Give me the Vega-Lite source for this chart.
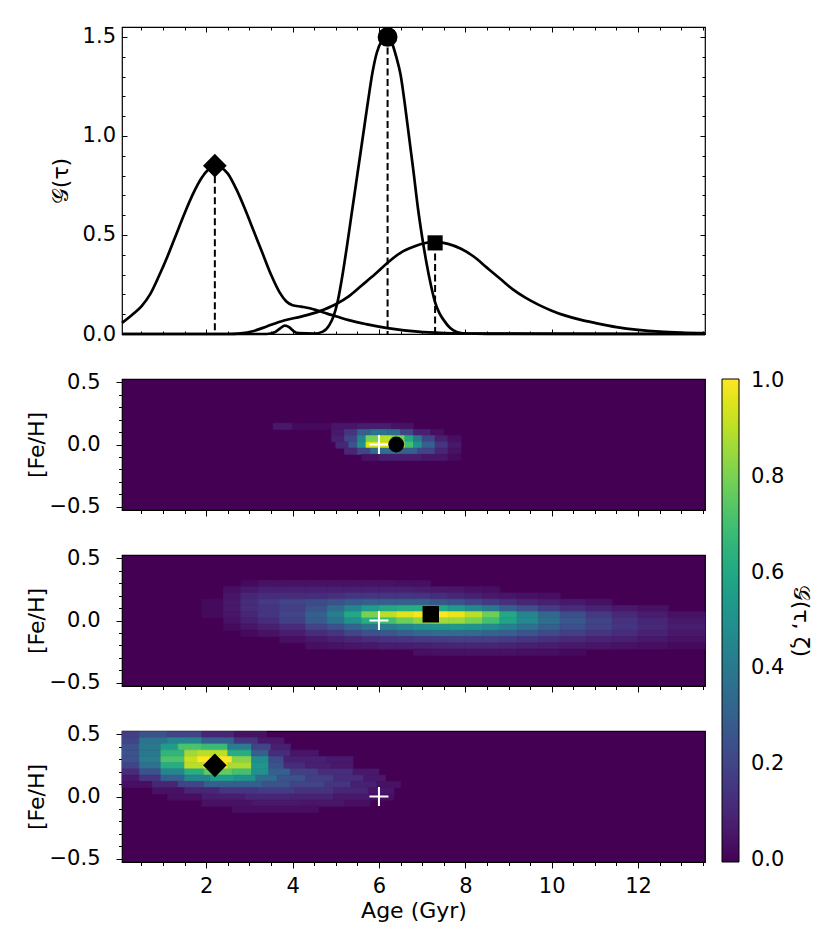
{
  "$schema": "https://vega.github.io/schema/vega-lite/v6.json",
  "padding": {"left": 24, "top": 25, "right": 5, "bottom": 5},
  "background": "white",
  "spacing": 45,
  "bounds": "flush",
  "config": {
    "font": "DejaVu Sans",
    "view": {"stroke": "black", "strokeWidth": 1.2},
    "axis": {"domain": false, "grid": false, "labelFontSize": 21, "titleFontSize": 22, "titleFontWeight": "normal", "labelColor": "black", "titleColor": "black", "tickColor": "black", "tickWidth": 1, "labelFont": "DejaVu Sans", "titleFont": "DejaVu Sans"},
    "legend": {"labelFontSize": 21, "titleFontSize": 22, "titleFontWeight": "normal", "labelColor": "black", "titleColor": "black", "labelFont": "DejaVu Sans", "titleFont": "DejaVu Sans"}
  },
  "datasets": {
    "curves": [
      {"s":"A","age":0.05,"g":0.056},{"s":"A","age":0.3,"g":0.1},{"s":"A","age":0.5,"g":0.14},{"s":"A","age":0.7,"g":0.2},{"s":"A","age":0.9,"g":0.29},{"s":"A","age":1.1,"g":0.39},{"s":"A","age":1.3,"g":0.5},{"s":"A","age":1.5,"g":0.61},{"s":"A","age":1.7,"g":0.71},{"s":"A","age":1.9,"g":0.79},{"s":"A","age":2.05,"g":0.83},{"s":"A","age":2.2,"g":0.85},{"s":"A","age":2.35,"g":0.84},{"s":"A","age":2.5,"g":0.81},{"s":"A","age":2.7,"g":0.73},{"s":"A","age":2.9,"g":0.63},{"s":"A","age":3.1,"g":0.52},{"s":"A","age":3.3,"g":0.41},{"s":"A","age":3.5,"g":0.3},{"s":"A","age":3.7,"g":0.21},{"s":"A","age":3.85,"g":0.165},{"s":"A","age":4.0,"g":0.145},{"s":"A","age":4.2,"g":0.138},{"s":"A","age":4.4,"g":0.13},{"s":"A","age":4.6,"g":0.117},{"s":"A","age":4.8,"g":0.103},{"s":"A","age":5.0,"g":0.09},{"s":"A","age":5.3,"g":0.07},{"s":"A","age":5.7,"g":0.05},{"s":"A","age":6.2,"g":0.03},{"s":"A","age":6.9,"g":0.012},{"s":"A","age":7.5,"g":0.005},{"s":"A","age":8.5,"g":0.001},{"s":"A","age":13.55,"g":0},
      {"s":"B","age":0.05,"g":0},{"s":"B","age":3.4,"g":0},{"s":"B","age":3.6,"g":0.01},{"s":"B","age":3.72,"g":0.03},{"s":"B","age":3.82,"g":0.042},{"s":"B","age":3.92,"g":0.035},{"s":"B","age":4.02,"g":0.015},{"s":"B","age":4.15,"g":0.004},{"s":"B","age":4.5,"g":0.002},{"s":"B","age":4.7,"g":0.012},{"s":"B","age":4.85,"g":0.045},{"s":"B","age":4.95,"g":0.09},{"s":"B","age":5.05,"g":0.17},{"s":"B","age":5.15,"g":0.29},{"s":"B","age":5.25,"g":0.43},{"s":"B","age":5.35,"g":0.58},{"s":"B","age":5.45,"g":0.73},{"s":"B","age":5.55,"g":0.88},{"s":"B","age":5.65,"g":1.03},{"s":"B","age":5.75,"g":1.18},{"s":"B","age":5.85,"g":1.32},{"s":"B","age":5.95,"g":1.42},{"s":"B","age":6.05,"g":1.475},{"s":"B","age":6.15,"g":1.498},{"s":"B","age":6.2,"g":1.5},{"s":"B","age":6.3,"g":1.47},{"s":"B","age":6.4,"g":1.4},{"s":"B","age":6.5,"g":1.31},{"s":"B","age":6.6,"g":1.16},{"s":"B","age":6.7,"g":0.99},{"s":"B","age":6.8,"g":0.82},{"s":"B","age":6.9,"g":0.64},{"s":"B","age":7.0,"g":0.49},{"s":"B","age":7.1,"g":0.36},{"s":"B","age":7.2,"g":0.25},{"s":"B","age":7.3,"g":0.16},{"s":"B","age":7.4,"g":0.105},{"s":"B","age":7.5,"g":0.07},{"s":"B","age":7.65,"g":0.03},{"s":"B","age":7.8,"g":0.01},{"s":"B","age":8.0,"g":0.002},{"s":"B","age":13.55,"g":0},
      {"s":"C","age":0.05,"g":0},{"s":"C","age":2.5,"g":0},{"s":"C","age":2.8,"g":0.003},{"s":"C","age":3.1,"g":0.015},{"s":"C","age":3.4,"g":0.038},{"s":"C","age":3.8,"g":0.068},{"s":"C","age":4.2,"g":0.088},{"s":"C","age":4.6,"g":0.113},{"s":"C","age":5.0,"g":0.15},{"s":"C","age":5.3,"g":0.19},{"s":"C","age":5.6,"g":0.245},{"s":"C","age":5.9,"g":0.3},{"s":"C","age":6.2,"g":0.36},{"s":"C","age":6.5,"g":0.41},{"s":"C","age":6.8,"g":0.44},{"s":"C","age":7.05,"g":0.458},{"s":"C","age":7.3,"g":0.465},{"s":"C","age":7.6,"g":0.455},{"s":"C","age":7.9,"g":0.43},{"s":"C","age":8.2,"g":0.39},{"s":"C","age":8.5,"g":0.335},{"s":"C","age":8.8,"g":0.28},{"s":"C","age":9.1,"g":0.225},{"s":"C","age":9.4,"g":0.182},{"s":"C","age":9.7,"g":0.147},{"s":"C","age":10.0,"g":0.118},{"s":"C","age":10.3,"g":0.094},{"s":"C","age":10.7,"g":0.07},{"s":"C","age":11.0,"g":0.056},{"s":"C","age":11.5,"g":0.035},{"s":"C","age":12.0,"g":0.021},{"s":"C","age":12.5,"g":0.012},{"s":"C","age":13.0,"g":0.007},{"s":"C","age":13.55,"g":0.004}
    ],
    "tops": [
      {"m":"D","age":2.2,"g":0.85},{"m":"C","age":6.2,"g":1.5},{"m":"S","age":7.3,"g":0.46}
    ],
    "plus": [{"age":6.0,"f":0.0}],
    "m1": [{"age":6.4,"f":0.0}],
    "m2": [{"age":7.2,"f":0.05}],
    "m3": [{"age":2.2,"f":0.25}],
    "h1": [
      {"a":3.55,"b":4.0,"f":0.15,"v":0.06},{"a":4.0,"b":4.9,"f":0.15,"v":0.02},{"a":4.9,"b":5.5,"f":0.15,"v":0.05},{"a":5.5,"b":6.3,"f":0.15,"v":0.07},{"a":6.3,"b":6.8,"f":0.15,"v":0.04},
      {"a":4.9,"b":5.2,"f":0.1,"v":0.06},{"a":5.2,"b":5.5,"f":0.1,"v":0.15},{"a":5.5,"b":5.8,"f":0.1,"v":0.3},{"a":5.8,"b":6.2,"f":0.1,"v":0.38},{"a":6.2,"b":6.5,"f":0.1,"v":0.35},{"a":6.5,"b":6.8,"f":0.1,"v":0.2},{"a":6.8,"b":7.2,"f":0.1,"v":0.08},{"a":7.2,"b":7.5,"f":0.1,"v":0.03},
      {"a":4.9,"b":5.2,"f":0.05,"v":0.08},{"a":5.2,"b":5.5,"f":0.05,"v":0.2},{"a":5.5,"b":5.7,"f":0.05,"v":0.45},{"a":5.7,"b":6.0,"f":0.05,"v":0.8},{"a":6.0,"b":6.3,"f":0.05,"v":0.9},{"a":6.3,"b":6.6,"f":0.05,"v":0.8},{"a":6.6,"b":6.8,"f":0.05,"v":0.6},{"a":6.8,"b":7.0,"f":0.05,"v":0.4},{"a":7.0,"b":7.3,"f":0.05,"v":0.2},{"a":7.3,"b":7.6,"f":0.05,"v":0.08},{"a":7.6,"b":7.9,"f":0.05,"v":0.03},
      {"a":5.0,"b":5.3,"f":0,"v":0.1},{"a":5.3,"b":5.5,"f":0,"v":0.25},{"a":5.5,"b":5.7,"f":0,"v":0.5},{"a":5.7,"b":6.2,"f":0,"v":0.95},{"a":6.2,"b":6.6,"f":0,"v":1.0},{"a":6.6,"b":6.8,"f":0,"v":0.7},{"a":6.8,"b":7.0,"f":0,"v":0.5},{"a":7.0,"b":7.3,"f":0,"v":0.3},{"a":7.3,"b":7.6,"f":0,"v":0.15},{"a":7.6,"b":7.9,"f":0,"v":0.06},
      {"a":5.2,"b":5.5,"f":-0.05,"v":0.1},{"a":5.5,"b":5.8,"f":-0.05,"v":0.2},{"a":5.8,"b":6.5,"f":-0.05,"v":0.35},{"a":6.5,"b":6.9,"f":-0.05,"v":0.3},{"a":6.9,"b":7.3,"f":-0.05,"v":0.2},{"a":7.3,"b":7.6,"f":-0.05,"v":0.1},{"a":7.6,"b":7.9,"f":-0.05,"v":0.04},
      {"a":5.6,"b":6.0,"f":-0.1,"v":0.04},{"a":6.0,"b":7.0,"f":-0.1,"v":0.07},{"a":7.0,"b":7.6,"f":-0.1,"v":0.05},{"a":7.6,"b":7.9,"f":-0.1,"v":0.02}
    ],
    "h2": [
      {"a":1.9,"b":2.4,"f":0.15,"v":0.02},{"a":1.9,"b":2.4,"f":0.1,"v":0.02},{"a":1.9,"b":2.4,"f":0.05,"v":0.02},
      {"a":2.4,"b":2.8,"f":0.25,"v":0.03},{"a":2.4,"b":2.8,"f":0.2,"v":0.05},{"a":2.4,"b":2.8,"f":0.15,"v":0.06},{"a":2.4,"b":2.8,"f":0.1,"v":0.06},{"a":2.4,"b":2.8,"f":0.05,"v":0.05},{"a":2.4,"b":2.8,"f":0,"v":0.04},{"a":2.4,"b":2.8,"f":-0.05,"v":0.02},
      {"a":2.8,"b":3.2,"f":0.3,"v":0.02},{"a":2.8,"b":3.2,"f":0.25,"v":0.06},{"a":2.8,"b":3.2,"f":0.2,"v":0.1},{"a":2.8,"b":3.2,"f":0.15,"v":0.12},{"a":2.8,"b":3.2,"f":0.1,"v":0.12},{"a":2.8,"b":3.2,"f":0.05,"v":0.1},{"a":2.8,"b":3.2,"f":0,"v":0.08},{"a":2.8,"b":3.2,"f":-0.05,"v":0.05},{"a":2.8,"b":3.2,"f":-0.1,"v":0.02},
      {"a":3.2,"b":3.7,"f":0.3,"v":0.04},{"a":3.2,"b":3.7,"f":0.25,"v":0.08},{"a":3.2,"b":3.7,"f":0.2,"v":0.12},{"a":3.2,"b":3.7,"f":0.15,"v":0.16},{"a":3.2,"b":3.7,"f":0.1,"v":0.15},{"a":3.2,"b":3.7,"f":0.05,"v":0.15},{"a":3.2,"b":3.7,"f":0,"v":0.12},{"a":3.2,"b":3.7,"f":-0.05,"v":0.08},{"a":3.2,"b":3.7,"f":-0.1,"v":0.04},
      {"a":3.7,"b":4.3,"f":0.3,"v":0.04},{"a":3.7,"b":4.3,"f":0.25,"v":0.08},{"a":3.7,"b":4.3,"f":0.2,"v":0.12},{"a":3.7,"b":4.3,"f":0.15,"v":0.2},{"a":3.7,"b":4.3,"f":0.1,"v":0.18},{"a":3.7,"b":4.3,"f":0.05,"v":0.2},{"a":3.7,"b":4.3,"f":0,"v":0.18},{"a":3.7,"b":4.3,"f":-0.05,"v":0.12},{"a":3.7,"b":4.3,"f":-0.1,"v":0.07},{"a":3.7,"b":4.3,"f":-0.15,"v":0.03},
      {"a":4.3,"b":4.8,"f":0.3,"v":0.04},{"a":4.3,"b":4.8,"f":0.25,"v":0.08},{"a":4.3,"b":4.8,"f":0.2,"v":0.12},{"a":4.3,"b":4.8,"f":0.15,"v":0.22},{"a":4.3,"b":4.8,"f":0.1,"v":0.25},{"a":4.3,"b":4.8,"f":0.05,"v":0.3},{"a":4.3,"b":4.8,"f":0,"v":0.28},{"a":4.3,"b":4.8,"f":-0.05,"v":0.2},{"a":4.3,"b":4.8,"f":-0.1,"v":0.12},{"a":4.3,"b":4.8,"f":-0.15,"v":0.06},{"a":4.3,"b":4.8,"f":-0.2,"v":0.03},
      {"a":4.8,"b":5.2,"f":0.3,"v":0.04},{"a":4.8,"b":5.2,"f":0.25,"v":0.08},{"a":4.8,"b":5.2,"f":0.2,"v":0.13},{"a":4.8,"b":5.2,"f":0.15,"v":0.25},{"a":4.8,"b":5.2,"f":0.1,"v":0.35},{"a":4.8,"b":5.2,"f":0.05,"v":0.42},{"a":4.8,"b":5.2,"f":0,"v":0.38},{"a":4.8,"b":5.2,"f":-0.05,"v":0.25},{"a":4.8,"b":5.2,"f":-0.1,"v":0.15},{"a":4.8,"b":5.2,"f":-0.15,"v":0.08},{"a":4.8,"b":5.2,"f":-0.2,"v":0.04},
      {"a":5.2,"b":5.6,"f":0.3,"v":0.04},{"a":5.2,"b":5.6,"f":0.25,"v":0.08},{"a":5.2,"b":5.6,"f":0.2,"v":0.15},{"a":5.2,"b":5.6,"f":0.15,"v":0.28},{"a":5.2,"b":5.6,"f":0.1,"v":0.45},{"a":5.2,"b":5.6,"f":0.05,"v":0.6},{"a":5.2,"b":5.6,"f":0,"v":0.5},{"a":5.2,"b":5.6,"f":-0.05,"v":0.32},{"a":5.2,"b":5.6,"f":-0.1,"v":0.2},{"a":5.2,"b":5.6,"f":-0.15,"v":0.1},{"a":5.2,"b":5.6,"f":-0.2,"v":0.05},
      {"a":5.6,"b":6.0,"f":0.3,"v":0.04},{"a":5.6,"b":6.0,"f":0.25,"v":0.08},{"a":5.6,"b":6.0,"f":0.2,"v":0.15},{"a":5.6,"b":6.0,"f":0.15,"v":0.3},{"a":5.6,"b":6.0,"f":0.1,"v":0.55},{"a":5.6,"b":6.0,"f":0.05,"v":0.8},{"a":5.6,"b":6.0,"f":0,"v":0.62},{"a":5.6,"b":6.0,"f":-0.05,"v":0.38},{"a":5.6,"b":6.0,"f":-0.1,"v":0.24},{"a":5.6,"b":6.0,"f":-0.15,"v":0.12},{"a":5.6,"b":6.0,"f":-0.2,"v":0.06},
      {"a":6.0,"b":6.4,"f":0.3,"v":0.04},{"a":6.0,"b":6.4,"f":0.25,"v":0.08},{"a":6.0,"b":6.4,"f":0.2,"v":0.15},{"a":6.0,"b":6.4,"f":0.15,"v":0.3},{"a":6.0,"b":6.4,"f":0.1,"v":0.6},{"a":6.0,"b":6.4,"f":0.05,"v":0.9},{"a":6.0,"b":6.4,"f":0,"v":0.7},{"a":6.0,"b":6.4,"f":-0.05,"v":0.42},{"a":6.0,"b":6.4,"f":-0.1,"v":0.27},{"a":6.0,"b":6.4,"f":-0.15,"v":0.14},{"a":6.0,"b":6.4,"f":-0.2,"v":0.07},
      {"a":6.4,"b":6.8,"f":0.3,"v":0.03},{"a":6.4,"b":6.8,"f":0.25,"v":0.08},{"a":6.4,"b":6.8,"f":0.2,"v":0.15},{"a":6.4,"b":6.8,"f":0.15,"v":0.3},{"a":6.4,"b":6.8,"f":0.1,"v":0.62},{"a":6.4,"b":6.8,"f":0.05,"v":0.96},{"a":6.4,"b":6.8,"f":0,"v":0.78},{"a":6.4,"b":6.8,"f":-0.05,"v":0.46},{"a":6.4,"b":6.8,"f":-0.1,"v":0.3},{"a":6.4,"b":6.8,"f":-0.15,"v":0.15},{"a":6.4,"b":6.8,"f":-0.2,"v":0.07},
      {"a":6.8,"b":7.2,"f":0.3,"v":0.03},{"a":6.8,"b":7.2,"f":0.25,"v":0.07},{"a":6.8,"b":7.2,"f":0.2,"v":0.14},{"a":6.8,"b":7.2,"f":0.15,"v":0.3},{"a":6.8,"b":7.2,"f":0.1,"v":0.62},{"a":6.8,"b":7.2,"f":0.05,"v":0.99},{"a":6.8,"b":7.2,"f":0,"v":0.84},{"a":6.8,"b":7.2,"f":-0.05,"v":0.5},{"a":6.8,"b":7.2,"f":-0.1,"v":0.33},{"a":6.8,"b":7.2,"f":-0.15,"v":0.16},{"a":6.8,"b":7.2,"f":-0.2,"v":0.08},{"a":6.8,"b":7.2,"f":-0.25,"v":0.03},
      {"a":7.2,"b":7.6,"f":0.25,"v":0.06},{"a":7.2,"b":7.6,"f":0.2,"v":0.12},{"a":7.2,"b":7.6,"f":0.15,"v":0.27},{"a":7.2,"b":7.6,"f":0.1,"v":0.6},{"a":7.2,"b":7.6,"f":0.05,"v":1.0},{"a":7.2,"b":7.6,"f":0,"v":0.86},{"a":7.2,"b":7.6,"f":-0.05,"v":0.53},{"a":7.2,"b":7.6,"f":-0.1,"v":0.35},{"a":7.2,"b":7.6,"f":-0.15,"v":0.17},{"a":7.2,"b":7.6,"f":-0.2,"v":0.09},{"a":7.2,"b":7.6,"f":-0.25,"v":0.04},
      {"a":7.6,"b":8.0,"f":0.25,"v":0.05},{"a":7.6,"b":8.0,"f":0.2,"v":0.1},{"a":7.6,"b":8.0,"f":0.15,"v":0.24},{"a":7.6,"b":8.0,"f":0.1,"v":0.54},{"a":7.6,"b":8.0,"f":0.05,"v":0.97},{"a":7.6,"b":8.0,"f":0,"v":0.85},{"a":7.6,"b":8.0,"f":-0.05,"v":0.54},{"a":7.6,"b":8.0,"f":-0.1,"v":0.35},{"a":7.6,"b":8.0,"f":-0.15,"v":0.18},{"a":7.6,"b":8.0,"f":-0.2,"v":0.1},{"a":7.6,"b":8.0,"f":-0.25,"v":0.04},
      {"a":8.0,"b":8.4,"f":0.25,"v":0.04},{"a":8.0,"b":8.4,"f":0.2,"v":0.08},{"a":8.0,"b":8.4,"f":0.15,"v":0.2},{"a":8.0,"b":8.4,"f":0.1,"v":0.47},{"a":8.0,"b":8.4,"f":0.05,"v":0.9},{"a":8.0,"b":8.4,"f":0,"v":0.8},{"a":8.0,"b":8.4,"f":-0.05,"v":0.52},{"a":8.0,"b":8.4,"f":-0.1,"v":0.34},{"a":8.0,"b":8.4,"f":-0.15,"v":0.18},{"a":8.0,"b":8.4,"f":-0.2,"v":0.1},{"a":8.0,"b":8.4,"f":-0.25,"v":0.04},
      {"a":8.4,"b":8.8,"f":0.25,"v":0.03},{"a":8.4,"b":8.8,"f":0.2,"v":0.06},{"a":8.4,"b":8.8,"f":0.15,"v":0.16},{"a":8.4,"b":8.8,"f":0.1,"v":0.4},{"a":8.4,"b":8.8,"f":0.05,"v":0.78},{"a":8.4,"b":8.8,"f":0,"v":0.7},{"a":8.4,"b":8.8,"f":-0.05,"v":0.48},{"a":8.4,"b":8.8,"f":-0.1,"v":0.32},{"a":8.4,"b":8.8,"f":-0.15,"v":0.18},{"a":8.4,"b":8.8,"f":-0.2,"v":0.1},{"a":8.4,"b":8.8,"f":-0.25,"v":0.04},
      {"a":8.8,"b":9.2,"f":0.2,"v":0.05},{"a":8.8,"b":9.2,"f":0.15,"v":0.13},{"a":8.8,"b":9.2,"f":0.1,"v":0.3},{"a":8.8,"b":9.2,"f":0.05,"v":0.6},{"a":8.8,"b":9.2,"f":0,"v":0.58},{"a":8.8,"b":9.2,"f":-0.05,"v":0.43},{"a":8.8,"b":9.2,"f":-0.1,"v":0.3},{"a":8.8,"b":9.2,"f":-0.15,"v":0.17},{"a":8.8,"b":9.2,"f":-0.2,"v":0.09},{"a":8.8,"b":9.2,"f":-0.25,"v":0.04},
      {"a":9.2,"b":9.7,"f":0.2,"v":0.04},{"a":9.2,"b":9.7,"f":0.15,"v":0.1},{"a":9.2,"b":9.7,"f":0.1,"v":0.23},{"a":9.2,"b":9.7,"f":0.05,"v":0.45},{"a":9.2,"b":9.7,"f":0,"v":0.47},{"a":9.2,"b":9.7,"f":-0.05,"v":0.37},{"a":9.2,"b":9.7,"f":-0.1,"v":0.26},{"a":9.2,"b":9.7,"f":-0.15,"v":0.15},{"a":9.2,"b":9.7,"f":-0.2,"v":0.08},{"a":9.2,"b":9.7,"f":-0.25,"v":0.03},
      {"a":9.7,"b":10.2,"f":0.2,"v":0.03},{"a":9.7,"b":10.2,"f":0.15,"v":0.08},{"a":9.7,"b":10.2,"f":0.1,"v":0.17},{"a":9.7,"b":10.2,"f":0.05,"v":0.33},{"a":9.7,"b":10.2,"f":0,"v":0.36},{"a":9.7,"b":10.2,"f":-0.05,"v":0.3},{"a":9.7,"b":10.2,"f":-0.1,"v":0.22},{"a":9.7,"b":10.2,"f":-0.15,"v":0.13},{"a":9.7,"b":10.2,"f":-0.2,"v":0.07},{"a":9.7,"b":10.2,"f":-0.25,"v":0.03},
      {"a":10.2,"b":10.8,"f":0.15,"v":0.06},{"a":10.2,"b":10.8,"f":0.1,"v":0.12},{"a":10.2,"b":10.8,"f":0.05,"v":0.23},{"a":10.2,"b":10.8,"f":0,"v":0.27},{"a":10.2,"b":10.8,"f":-0.05,"v":0.24},{"a":10.2,"b":10.8,"f":-0.1,"v":0.18},{"a":10.2,"b":10.8,"f":-0.15,"v":0.11},{"a":10.2,"b":10.8,"f":-0.2,"v":0.06},{"a":10.2,"b":10.8,"f":-0.25,"v":0.02},
      {"a":10.8,"b":11.4,"f":0.15,"v":0.04},{"a":10.8,"b":11.4,"f":0.1,"v":0.09},{"a":10.8,"b":11.4,"f":0.05,"v":0.16},{"a":10.8,"b":11.4,"f":0,"v":0.2},{"a":10.8,"b":11.4,"f":-0.05,"v":0.19},{"a":10.8,"b":11.4,"f":-0.1,"v":0.15},{"a":10.8,"b":11.4,"f":-0.15,"v":0.09},{"a":10.8,"b":11.4,"f":-0.2,"v":0.05},
      {"a":11.4,"b":12.0,"f":0.1,"v":0.06},{"a":11.4,"b":12.0,"f":0.05,"v":0.11},{"a":11.4,"b":12.0,"f":0,"v":0.14},{"a":11.4,"b":12.0,"f":-0.05,"v":0.15},{"a":11.4,"b":12.0,"f":-0.1,"v":0.12},{"a":11.4,"b":12.0,"f":-0.15,"v":0.08},{"a":11.4,"b":12.0,"f":-0.2,"v":0.04},
      {"a":12.0,"b":12.7,"f":0.1,"v":0.04},{"a":12.0,"b":12.7,"f":0.05,"v":0.07},{"a":12.0,"b":12.7,"f":0,"v":0.1},{"a":12.0,"b":12.7,"f":-0.05,"v":0.11},{"a":12.0,"b":12.7,"f":-0.1,"v":0.09},{"a":12.0,"b":12.7,"f":-0.15,"v":0.06},{"a":12.0,"b":12.7,"f":-0.2,"v":0.03},
      {"a":12.7,"b":13.55,"f":0.05,"v":0.04},{"a":12.7,"b":13.55,"f":0,"v":0.06},{"a":12.7,"b":13.55,"f":-0.05,"v":0.07},{"a":12.7,"b":13.55,"f":-0.1,"v":0.06},{"a":12.7,"b":13.55,"f":-0.15,"v":0.04},{"a":12.7,"b":13.55,"f":-0.2,"v":0.02}
    ],
    "h3": [
      {"a":0.05,"b":0.45,"f":0.5,"v":0.18},{"a":0.45,"b":1.1,"f":0.5,"v":0.25},{"a":1.1,"b":1.9,"f":0.5,"v":0.2},{"a":1.9,"b":2.65,"f":0.5,"v":0.1},{"a":2.65,"b":3.4,"f":0.5,"v":0.04},
      {"a":0.05,"b":0.45,"f":0.45,"v":0.2},{"a":0.45,"b":1.1,"f":0.45,"v":0.38},{"a":1.1,"b":1.9,"f":0.45,"v":0.45},{"a":1.9,"b":2.65,"f":0.45,"v":0.3},{"a":2.65,"b":3.2,"f":0.45,"v":0.15},{"a":3.2,"b":3.8,"f":0.45,"v":0.06},
      {"a":0.05,"b":0.45,"f":0.4,"v":0.25},{"a":0.45,"b":0.95,"f":0.4,"v":0.4},{"a":0.95,"b":1.35,"f":0.4,"v":0.55},{"a":1.35,"b":1.9,"f":0.4,"v":0.72},{"a":1.9,"b":2.5,"f":0.4,"v":0.68},{"a":2.5,"b":3.05,"f":0.4,"v":0.42},{"a":3.05,"b":3.5,"f":0.4,"v":0.2},{"a":3.5,"b":3.95,"f":0.4,"v":0.08},
      {"a":0.05,"b":0.45,"f":0.35,"v":0.25},{"a":0.45,"b":0.95,"f":0.35,"v":0.4},{"a":0.95,"b":1.5,"f":0.35,"v":0.66},{"a":1.5,"b":1.8,"f":0.35,"v":0.86},{"a":1.8,"b":2.5,"f":0.35,"v":0.9},{"a":2.5,"b":3.05,"f":0.35,"v":0.62},{"a":3.05,"b":3.45,"f":0.35,"v":0.3},{"a":3.45,"b":3.95,"f":0.35,"v":0.12},{"a":3.95,"b":4.6,"f":0.35,"v":0.05},
      {"a":0.05,"b":0.45,"f":0.3,"v":0.25},{"a":0.45,"b":0.95,"f":0.3,"v":0.42},{"a":0.95,"b":1.5,"f":0.3,"v":0.72},{"a":1.5,"b":1.8,"f":0.3,"v":0.92},{"a":1.8,"b":2.6,"f":0.3,"v":1.0},{"a":2.6,"b":3.05,"f":0.3,"v":0.82},{"a":3.05,"b":3.45,"f":0.3,"v":0.48},{"a":3.45,"b":3.8,"f":0.3,"v":0.22},{"a":3.8,"b":4.8,"f":0.3,"v":0.08},{"a":4.8,"b":5.4,"f":0.3,"v":0.06},
      {"a":0.05,"b":0.45,"f":0.25,"v":0.2},{"a":0.45,"b":0.95,"f":0.25,"v":0.37},{"a":0.95,"b":1.5,"f":0.25,"v":0.62},{"a":1.5,"b":1.95,"f":0.25,"v":0.9},{"a":1.95,"b":2.5,"f":0.25,"v":1.0},{"a":2.5,"b":3.05,"f":0.25,"v":0.88},{"a":3.05,"b":3.45,"f":0.25,"v":0.52},{"a":3.45,"b":3.8,"f":0.25,"v":0.25},{"a":3.8,"b":4.3,"f":0.25,"v":0.12},{"a":4.3,"b":4.9,"f":0.25,"v":0.08},{"a":4.9,"b":5.4,"f":0.25,"v":0.06},
      {"a":0.05,"b":0.45,"f":0.2,"v":0.12},{"a":0.45,"b":0.95,"f":0.2,"v":0.25},{"a":0.95,"b":1.5,"f":0.2,"v":0.45},{"a":1.5,"b":1.95,"f":0.2,"v":0.62},{"a":1.95,"b":2.6,"f":0.2,"v":0.76},{"a":2.6,"b":3.05,"f":0.2,"v":0.7},{"a":3.05,"b":3.45,"f":0.2,"v":0.5},{"a":3.45,"b":3.95,"f":0.2,"v":0.3},{"a":3.95,"b":4.6,"f":0.2,"v":0.18},{"a":4.6,"b":5.4,"f":0.2,"v":0.12},{"a":5.4,"b":6.0,"f":0.2,"v":0.06},
      {"a":0.05,"b":0.45,"f":0.15,"v":0.06},{"a":0.45,"b":0.95,"f":0.15,"v":0.15},{"a":0.95,"b":1.5,"f":0.15,"v":0.3},{"a":1.5,"b":2.1,"f":0.15,"v":0.45},{"a":2.1,"b":2.65,"f":0.15,"v":0.55},{"a":2.65,"b":3.15,"f":0.15,"v":0.5},{"a":3.15,"b":3.65,"f":0.15,"v":0.35},{"a":3.65,"b":4.3,"f":0.15,"v":0.25},{"a":4.3,"b":4.95,"f":0.15,"v":0.18},{"a":4.95,"b":5.65,"f":0.15,"v":0.12},{"a":5.65,"b":6.15,"f":0.15,"v":0.06},
      {"a":0.05,"b":0.75,"f":0.1,"v":0.03},{"a":0.75,"b":1.35,"f":0.1,"v":0.1},{"a":1.35,"b":1.95,"f":0.1,"v":0.2},{"a":1.95,"b":2.65,"f":0.1,"v":0.3},{"a":2.65,"b":3.3,"f":0.1,"v":0.3},{"a":3.3,"b":3.95,"f":0.1,"v":0.25},{"a":3.95,"b":4.75,"f":0.1,"v":0.2},{"a":4.75,"b":5.35,"f":0.1,"v":0.15},{"a":5.35,"b":5.95,"f":0.1,"v":0.08},{"a":5.95,"b":6.5,"f":0.1,"v":0.04},
      {"a":0.75,"b":1.5,"f":0.05,"v":0.04},{"a":1.5,"b":2.3,"f":0.05,"v":0.1},{"a":2.3,"b":3.2,"f":0.05,"v":0.15},{"a":3.2,"b":4.05,"f":0.05,"v":0.17},{"a":4.05,"b":4.95,"f":0.05,"v":0.14},{"a":4.95,"b":5.75,"f":0.05,"v":0.1},{"a":5.75,"b":6.35,"f":0.05,"v":0.05},
      {"a":1.1,"b":1.9,"f":0,"v":0.03},{"a":1.9,"b":2.9,"f":0,"v":0.07},{"a":2.9,"b":3.95,"f":0,"v":0.1},{"a":3.95,"b":4.95,"f":0,"v":0.09},{"a":4.95,"b":5.8,"f":0,"v":0.06},{"a":5.8,"b":6.35,"f":0,"v":0.03},
      {"a":1.9,"b":3.05,"f":-0.05,"v":0.04},{"a":3.05,"b":4.2,"f":-0.05,"v":0.06},{"a":4.2,"b":5.2,"f":-0.05,"v":0.05},{"a":5.2,"b":5.8,"f":-0.05,"v":0.03},
      {"a":2.6,"b":4.6,"f":-0.1,"v":0.03}
    ]
  },
  "vconcat": [
    {
      "width": 583,
      "height": 307,
      "resolve": {"axis": {"x": "independent", "y": "independent"}},
      "layer": [
        {
          "data": {"name": "tops"},
          "mark": {"type": "rule", "color": "black", "strokeWidth": 2, "strokeDash": [7, 3.5]},
          "encoding": {
            "x": {"field": "age", "type": "quantitative", "scale": {"domain": [0.05, 13.55], "nice": false, "zero": false},
                  "axis": {"orient": "top", "values": [0.5,1,1.5,2,2.5,3,3.5,4,4.5,5,5.5,6,6.5,7,7.5,8,8.5,9,9.5,10,10.5,11,11.5,12,12.5,13,13.5], "labels": false, "title": null,
                           "tickSize": {"condition": {"test": "datum.value % 2 === 0", "value": -5}, "value": -3}}},
            "y": {"field": "g", "type": "quantitative", "scale": {"domain": [0, 1.55], "nice": false},
                  "axis": {"orient": "right", "values": [0,0.1,0.2,0.3,0.4,0.5,0.6,0.7,0.8,0.9,1,1.1,1.2,1.3,1.4,1.5], "labels": false, "title": null,
                           "tickSize": {"condition": {"test": "abs(datum.value*2 - round(datum.value*2)) < 0.001", "value": -5}, "value": -3}}},
            "y2": {"datum": 0}
          }
        },
        {
          "data": {"name": "curves"},
          "mark": {"type": "line", "color": "black", "strokeWidth": 2.7, "interpolate": "monotone"},
          "encoding": {
            "x": {"field": "age", "type": "quantitative", "scale": {"domain": [0.05, 13.55], "nice": false, "zero": false},
                  "axis": {"orient": "bottom", "values": [0.5,1,1.5,2,2.5,3,3.5,4,4.5,5,5.5,6,6.5,7,7.5,8,8.5,9,9.5,10,10.5,11,11.5,12,12.5,13,13.5], "labels": false, "title": null,
                           "tickSize": {"condition": {"test": "datum.value % 2 === 0", "value": -5}, "value": -3}}},
            "y": {"field": "g", "type": "quantitative", "scale": {"domain": [0, 1.55], "nice": false},
                  "axis": {"orient": "left", "values": [0,0.1,0.2,0.3,0.4,0.5,0.6,0.7,0.8,0.9,1,1.1,1.2,1.3,1.4,1.5], "title": "𝒢(τ)", "titleX": -62, "titleBaseline": "middle", "labelPadding": 11.5,
                           "labelExpr": "abs(datum.value*2 - round(datum.value*2)) < 0.001 ? format(datum.value, '.1f') : ''",
                           "tickSize": {"condition": {"test": "abs(datum.value*2 - round(datum.value*2)) < 0.001", "value": -5}, "value": -3}}},
            "detail": {"field": "s", "type": "nominal"}
          }
        },
        {
          "data": {"name": "tops"},
          "mark": {"type": "point", "filled": true, "color": "black", "opacity": 1},
          "encoding": {
            "x": {"field": "age", "type": "quantitative", "axis": null},
            "y": {"field": "g", "type": "quantitative", "axis": null},
            "shape": {"field": "m", "type": "nominal", "scale": {"domain": ["D", "C", "S"], "range": ["diamond", "circle", "square"]}, "legend": null},
            "size": {"field": "m", "type": "nominal", "scale": {"domain": ["D", "C", "S"], "range": [560, 230, 245]}, "legend": null}
          }
        }
      ]
    },
    {
      "width": 583,
      "height": 131,
      "view": {"fill": "#440154"},
      "resolve": {"axis": {"x": "independent", "y": "independent"}},
      "layer": [
        {
          "data": {"name": "h1"},
          "mark": {"type": "rect", "binSpacing": 0, "strokeWidth": 0.7, "stroke": {"expr": "scale('color', datum.v)"}},
          "encoding": {
            "x": {"field": "a", "type": "quantitative", "scale": {"domain": [0.05, 13.55], "nice": false, "zero": false}, "axis": null},
            "x2": {"field": "b"},
            "y": {"field": "f", "type": "quantitative", "bin": {"step": 0.05, "extent": [-0.525, 0.525], "nice": false}, "scale": {"domain": [-0.525, 0.525], "nice": false, "zero": false}, "axis": null},
            "color": {"field": "v", "type": "quantitative", "scale": {"scheme": "viridis", "domain": [-0.004, 1.004]},
                      "legend": {"type": "gradient", "orient": "none", "legendX": 600, "legendY": 352, "direction": "vertical", "gradientLength": 483, "gradientThickness": 17,
                                 "title": "𝒢(τ, ζ)", "titleOrient": "right", "titleAnchor": "middle", "titlePadding": 5,
                                 "values": [0, 0.2, 0.4, 0.6, 0.8, 1], "format": ".1f", "labelOffset": 12,
                                 "gradientStrokeColor": "black", "gradientStrokeWidth": 1,
                                 "encoding": {"title": {"update": {"angle": {"value": -90}}}}}}
          }
        },
        {
          "data": {"name": "plus"},
          "mark": {"type": "point", "shape": "M-1,0H1M0,-1V1", "filled": false, "stroke": "white", "strokeWidth": 2, "size": 361, "opacity": 1},
          "encoding": {
            "x": {"field": "age", "type": "quantitative",
                  "axis": {"values": [0.5,1,1.5,2,2.5,3,3.5,4,4.5,5,5.5,6,6.5,7,7.5,8,8.5,9,9.5,10,10.5,11,11.5,12,12.5,13,13.5], "labels": false, "title": null,
                           "tickSize": {"condition": {"test": "datum.value % 2 === 0", "value": 6}, "value": 3.5}}},
            "y": {"field": "f", "type": "quantitative",
                  "axis": {"values": [-0.5,-0.4,-0.3,-0.2,-0.1,0,0.1,0.2,0.3,0.4,0.5], "title": "[Fe/H]", "titlePadding": 1, "labelPadding": 16,
                           "labelExpr": "abs(datum.value) < 0.01 || abs(abs(datum.value) - 0.5) < 0.01 ? format(datum.value, '.1f') : ''",
                           "tickSize": {"condition": {"test": "abs(datum.value) < 0.01 || abs(abs(datum.value) - 0.5) < 0.01", "value": 6}, "value": 3.5}}}
          }
        },
        {
          "data": {"name": "m1"},
          "mark": {"type": "point", "shape": "circle", "filled": true, "color": "black", "size": 250, "opacity": 1},
          "encoding": {
            "x": {"field": "age", "type": "quantitative", "axis": null},
            "y": {"field": "f", "type": "quantitative", "axis": null}
          }
        }
      ]
    },
    {
      "width": 583,
      "height": 131,
      "view": {"fill": "#440154"},
      "resolve": {"axis": {"x": "independent", "y": "independent"}},
      "layer": [
        {
          "data": {"name": "h2"},
          "mark": {"type": "rect", "binSpacing": 0, "strokeWidth": 0.7, "stroke": {"expr": "scale('color', datum.v)"}},
          "encoding": {
            "x": {"field": "a", "type": "quantitative", "scale": {"domain": [0.05, 13.55], "nice": false, "zero": false}, "axis": null},
            "x2": {"field": "b"},
            "y": {"field": "f", "type": "quantitative", "bin": {"step": 0.05, "extent": [-0.525, 0.525], "nice": false}, "scale": {"domain": [-0.525, 0.525], "nice": false, "zero": false}, "axis": null},
            "color": {"field": "v", "type": "quantitative", "scale": {"scheme": "viridis", "domain": [-0.004, 1.004]}}
          }
        },
        {
          "data": {"name": "plus"},
          "mark": {"type": "point", "shape": "M-1,0H1M0,-1V1", "filled": false, "stroke": "white", "strokeWidth": 2, "size": 361, "opacity": 1},
          "encoding": {
            "x": {"field": "age", "type": "quantitative",
                  "axis": {"values": [0.5,1,1.5,2,2.5,3,3.5,4,4.5,5,5.5,6,6.5,7,7.5,8,8.5,9,9.5,10,10.5,11,11.5,12,12.5,13,13.5], "labels": false, "title": null,
                           "tickSize": {"condition": {"test": "datum.value % 2 === 0", "value": 6}, "value": 3.5}}},
            "y": {"field": "f", "type": "quantitative",
                  "axis": {"values": [-0.5,-0.4,-0.3,-0.2,-0.1,0,0.1,0.2,0.3,0.4,0.5], "title": "[Fe/H]", "titlePadding": 1, "labelPadding": 16,
                           "labelExpr": "abs(datum.value) < 0.01 || abs(abs(datum.value) - 0.5) < 0.01 ? format(datum.value, '.1f') : ''",
                           "tickSize": {"condition": {"test": "abs(datum.value) < 0.01 || abs(abs(datum.value) - 0.5) < 0.01", "value": 6}, "value": 3.5}}}
          }
        },
        {
          "data": {"name": "m2"},
          "mark": {"type": "point", "shape": "square", "filled": true, "color": "black", "size": 270, "opacity": 1},
          "encoding": {
            "x": {"field": "age", "type": "quantitative", "axis": null},
            "y": {"field": "f", "type": "quantitative", "axis": null}
          }
        }
      ]
    },
    {
      "width": 583,
      "height": 131,
      "view": {"fill": "#440154"},
      "resolve": {"axis": {"x": "independent", "y": "independent"}},
      "layer": [
        {
          "data": {"name": "h3"},
          "mark": {"type": "rect", "binSpacing": 0, "strokeWidth": 0.7, "stroke": {"expr": "scale('color', datum.v)"}},
          "encoding": {
            "x": {"field": "a", "type": "quantitative", "scale": {"domain": [0.05, 13.55], "nice": false, "zero": false}, "axis": null},
            "x2": {"field": "b"},
            "y": {"field": "f", "type": "quantitative", "bin": {"step": 0.05, "extent": [-0.525, 0.525], "nice": false}, "scale": {"domain": [-0.525, 0.525], "nice": false, "zero": false}, "axis": null},
            "color": {"field": "v", "type": "quantitative", "scale": {"scheme": "viridis", "domain": [-0.004, 1.004]}}
          }
        },
        {
          "data": {"name": "plus"},
          "mark": {"type": "point", "shape": "M-1,0H1M0,-1V1", "filled": false, "stroke": "white", "strokeWidth": 2, "size": 361, "opacity": 1},
          "encoding": {
            "x": {"field": "age", "type": "quantitative",
                  "axis": {"values": [0.5,1,1.5,2,2.5,3,3.5,4,4.5,5,5.5,6,6.5,7,7.5,8,8.5,9,9.5,10,10.5,11,11.5,12,12.5,13,13.5], "title": "Age (Gyr)", "titlePadding": 4, "labelPadding": 7,
                           "labelExpr": "datum.value % 2 === 0 ? format(datum.value, 'd') : ''",
                           "tickSize": {"condition": {"test": "datum.value % 2 === 0", "value": 6}, "value": 3.5}}},
            "y": {"field": "f", "type": "quantitative",
                  "axis": {"values": [-0.5,-0.4,-0.3,-0.2,-0.1,0,0.1,0.2,0.3,0.4,0.5], "title": "[Fe/H]", "titlePadding": 1, "labelPadding": 16,
                           "labelExpr": "abs(datum.value) < 0.01 || abs(abs(datum.value) - 0.5) < 0.01 ? format(datum.value, '.1f') : ''",
                           "tickSize": {"condition": {"test": "abs(datum.value) < 0.01 || abs(abs(datum.value) - 0.5) < 0.01", "value": 6}, "value": 3.5}}}
          }
        },
        {
          "data": {"name": "m3"},
          "mark": {"type": "point", "shape": "diamond", "filled": true, "color": "black", "size": 560, "opacity": 1},
          "encoding": {
            "x": {"field": "age", "type": "quantitative", "axis": null},
            "y": {"field": "f", "type": "quantitative", "axis": null}
          }
        }
      ]
    }
  ]
}
